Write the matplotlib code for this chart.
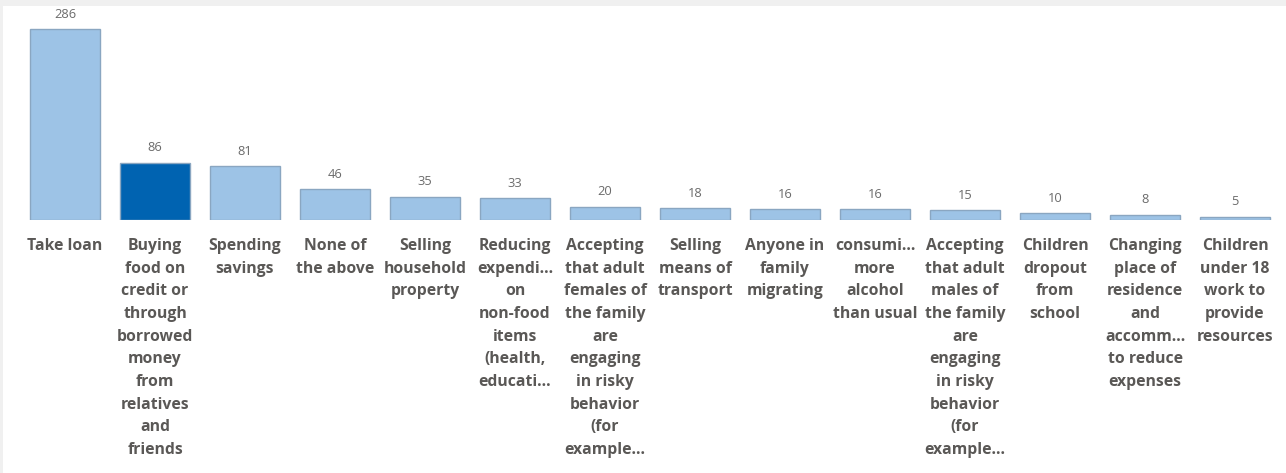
import matplotlib
matplotlib.use("Agg")
import matplotlib.pyplot as plt
from matplotlib.patches import Rectangle

categories = [
    "Take loan",
    "Buying\nfood on\ncredit or\nthrough\nborrowed\nmoney\nfrom\nrelatives\nand\nfriends",
    "Spending\nsavings",
    "None of\nthe above",
    "Selling\nhousehold\nproperty",
    "Reducing\nexpendi...\non\nnon-food\nitems\n(health,\neducati...",
    "Accepting\nthat adult\nfemales of\nthe family\nare\nengaging\nin risky\nbehavior\n(for\nexample...",
    "Selling\nmeans of\ntransport",
    "Anyone in\nfamily\nmigrating",
    "consumi...\nmore\nalcohol\nthan usual",
    "Accepting\nthat adult\nmales of\nthe family\nare\nengaging\nin risky\nbehavior\n(for\nexample...",
    "Children\ndropout\nfrom\nschool",
    "Changing\nplace of\nresidence\nand\naccomm...\nto reduce\nexpenses",
    "Children\nunder 18\nwork to\nprovide\nresources",
]
values = [286, 86, 81, 46, 35, 33, 20, 18, 16, 16, 15, 10, 8, 5]
highlight_index = 1

W, H = 1286, 473
fig = plt.figure(figsize=(W / 100, H / 100), dpi=100)
fig.patch.set_facecolor("#f0f0f0")
fig.add_artist(Rectangle((3 / W, 0), (W - 3) / W, (H - 6) / H, transform=fig.transFigure,
                         facecolor="white", edgecolor="none", zorder=0))

# axes: x from 20 to 1280 px, baseline at y=220 px from top, ylim 0..300
base_px = 220
ppu = (220 - 29) / 286.0
top_px = base_px - 300 * ppu
ax = fig.add_axes([20 / W, (H - base_px) / H, 1260 / W, (base_px - top_px) / H])
ax.set_facecolor("none")
ax.set_xlim(-0.5, len(values) - 0.5)
ax.set_ylim(0, 300)
for s in ax.spines.values():
    s.set_visible(False)
ax.set_yticks([])
ax.set_xticks([])

light = "#9dc3e6"
dark = "#0063b1"
colors = [dark if i == highlight_index else light for i in range(len(values))]
x = list(range(len(values)))
ax.bar(x, values, width=0.78, color=colors, edgecolor="#8aa6c1", linewidth=1.0, zorder=2)

for xi, v in zip(x, values):
    ax.annotate(str(v), (xi, v), xytext=(0, 6), textcoords="offset points",
                ha="center", va="bottom", fontsize=9.3, color="#6b6b6b",
                family=["Open Sans", "DejaVu Sans"])

for xi, lab in zip(x, categories):
    ax.annotate(lab, (xi, 0), xytext=(0, -13), textcoords="offset points",
                ha="center", va="top", fontsize=11.3, fontweight="bold",
                color="#5a5856", linespacing=1.555,
                family=["Open Sans", "DejaVu Sans"], annotation_clip=False)

fig.savefig("out.png", dpi=100, facecolor=fig.get_facecolor())
